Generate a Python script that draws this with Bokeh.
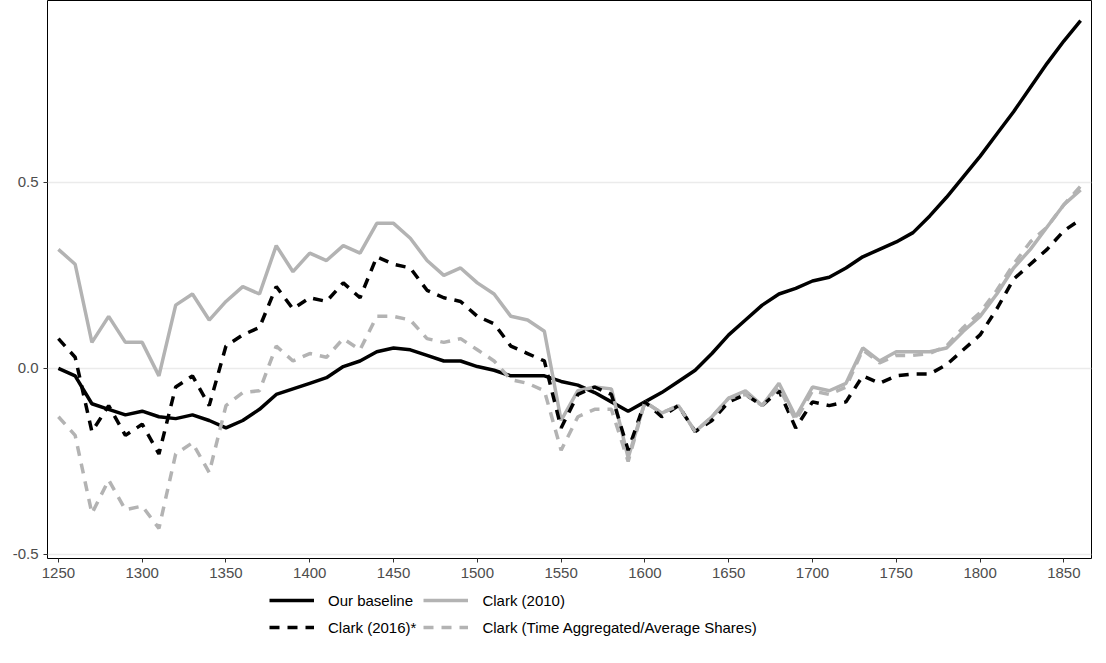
from bokeh.plotting import figure
from bokeh.models import Legend, FixedTicker, Range1d
from bokeh.layouts import column
from bokeh.embed import file_html
from bokeh.resources import INLINE

years = list(range(1250, 1861, 10))
baseline = [0.0,-0.02,-0.095,-0.11,-0.125,-0.115,-0.13,-0.135,-0.125,-0.14,-0.16,-0.14,-0.11,-0.07,-0.055,-0.04,-0.025,0.005,0.02,0.045,0.055,0.05,0.035,0.02,0.02,0.005,-0.005,-0.02,-0.02,-0.02,-0.035,-0.045,-0.065,-0.09,-0.115,-0.09,-0.065,-0.035,-0.005,0.04,0.09,0.13,0.17,0.2,0.215,0.235,0.245,0.27,0.3,0.32,0.34,0.365,0.41,0.46,0.515,0.57,0.63,0.69,0.755,0.82,0.88,0.935]
clark2010 = [0.32,0.28,0.07,0.14,0.07,0.07,-0.02,0.17,0.2,0.13,0.18,0.22,0.2,0.33,0.26,0.31,0.29,0.33,0.31,0.39,0.39,0.35,0.29,0.25,0.27,0.23,0.2,0.14,0.13,0.1,-0.14,-0.06,-0.05,-0.055,-0.24,-0.09,-0.12,-0.1,-0.17,-0.13,-0.08,-0.06,-0.1,-0.04,-0.13,-0.05,-0.06,-0.04,0.055,0.02,0.045,0.045,0.045,0.055,0.1,0.14,0.2,0.27,0.32,0.38,0.44,0.48]
clark2016 = [0.08,0.03,-0.17,-0.1,-0.18,-0.15,-0.23,-0.05,-0.02,-0.1,0.06,0.09,0.11,0.22,0.16,0.19,0.18,0.23,0.19,0.3,0.28,0.27,0.21,0.19,0.18,0.14,0.12,0.06,0.04,0.02,-0.16,-0.07,-0.05,-0.07,-0.22,-0.09,-0.13,-0.1,-0.17,-0.14,-0.09,-0.07,-0.1,-0.06,-0.16,-0.09,-0.1,-0.09,-0.02,-0.04,-0.02,-0.015,-0.015,0.01,0.05,0.09,0.16,0.24,0.28,0.32,0.37,0.4]
clark_agg = [-0.13,-0.18,-0.39,-0.3,-0.38,-0.37,-0.43,-0.23,-0.2,-0.28,-0.1,-0.065,-0.06,0.06,0.02,0.04,0.03,0.08,0.05,0.14,0.14,0.13,0.08,0.07,0.08,0.05,0.02,-0.03,-0.04,-0.06,-0.22,-0.13,-0.11,-0.11,-0.25,-0.09,-0.12,-0.1,-0.17,-0.13,-0.08,-0.07,-0.1,-0.05,-0.14,-0.06,-0.07,-0.05,0.05,0.015,0.035,0.035,0.04,0.06,0.11,0.15,0.21,0.28,0.34,0.38,0.44,0.49]
series_names = ["Our baseline", "Clark (2010)", "Clark (2016)*", "Clark (Time Aggregated/Average Shares)"]

p = figure(frame_width=1044, frame_height=558, output_backend="svg", toolbar_location=None,
           x_range=Range1d(1243.5, 1866.5), y_range=Range1d(-0.511, 0.989),
           min_border_left=47, min_border_right=4, min_border_top=0, min_border_bottom=0)
p.outline_line_color = "black"
p.xgrid.visible = False
p.ygrid.grid_line_color = "#EBEBEB"
p.ygrid.grid_line_width = 1.5
p.xaxis.ticker = FixedTicker(ticks=list(range(1250, 1851, 50)))
p.yaxis.ticker = FixedTicker(ticks=[-0.5, 0, 0.5])
p.yaxis.major_label_overrides = {-0.5: "-0.5", 0: "0.0", 0.5: "0.5"}
for ax in (p.xaxis, p.yaxis):
    ax.axis_line_color = None
    ax.minor_tick_line_color = None
    ax.major_tick_line_color = "#333333"
    ax.major_tick_in = 0
    ax.major_tick_out = 4
    ax.major_label_text_font = "Liberation Sans"
    ax.major_label_text_font_size = "15px"
    ax.major_label_text_color = "#4D4D4D"

styles = [("black", None), ("#B3B3B3", None), ("black", "10 8"), ("#B3B3B3", "10 8")]
for ys, (c, d) in zip([baseline, clark2010, clark2016, clark_agg], styles):
    kw = dict(line_dash=d) if d else {}
    p.line(years, ys, line_color=c, line_width=3.5, **kw)

lg = figure(width=1095, height=66, output_backend="svg", toolbar_location=None,
            x_range=Range1d(0, 1), y_range=Range1d(0, 1), min_border=0)
lg.axis.visible = False
lg.grid.visible = False
lg.outline_line_color = None
rs = []
for (c, d) in styles:
    kw = dict(line_dash=d) if d else {}
    rs.append(lg.line([-2, -1], [-2, -1], line_color=c, line_width=3.5, **kw))
items = [(series_names[i], [rs[i]]) for i in (0, 2, 1, 3)]
legend = Legend(items=items, nrows=2, location=(222, 9), border_line_color=None,
                padding=0, margin=0, background_fill_alpha=0,
                label_text_font="Liberation Sans", label_text_font_size="15px",
                label_text_color="black",
                glyph_width=45, glyph_height=20, spacing=7, label_standoff=14,
                item_background_fill_alpha=0)
lg.add_layout(legend, "center")

open("out.html", "w").write(file_html(column(p, lg, spacing=0), INLINE))
